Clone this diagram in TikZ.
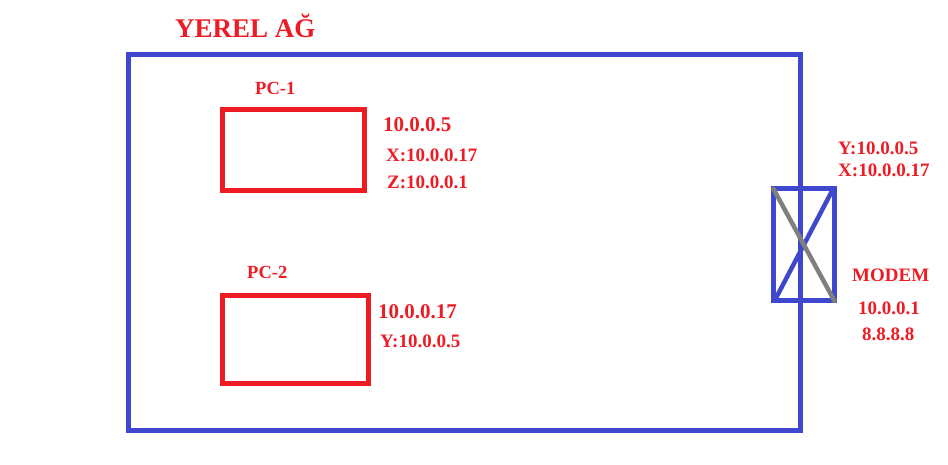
\documentclass[tikz,border=0pt]{standalone}
\usepackage{fontspec}
\setmainfont{Liberation Serif}
\definecolor{pred}{RGB}{237,28,36}
\definecolor{pblue}{RGB}{63,72,204}
\definecolor{pgray}{RGB}{127,127,127}
\begin{document}
\begin{tikzpicture}[x=1pt,y=-1pt,
  lan/.style={draw=pblue,line width=5pt},
  pcbox/.style={draw=pred,line width=5pt},
  lbl/.style={text=pred,font=\bfseries\fontsize{19}{19}\selectfont,anchor=base west,inner sep=0pt},
  big/.style={text=pred,font=\bfseries\fontsize{21}{21}\selectfont,anchor=base west,inner sep=0pt},
  pcname/.style={text=pred,font=\bfseries\fontsize{18.5}{18.5}\selectfont,anchor=base west,inner sep=0pt}]
\useasboundingbox (0,0) rectangle (948,465);
% LAN
\draw[lan] (128.5,54.5) rectangle (800,430);
\node[text=pred,font=\bfseries\fontsize{27}{27}\selectfont,anchor=base west,inner sep=0pt] (title) at (175,38) {YEREL AĞ};
% PC-1
\draw[pcbox] (222.5,109.5) rectangle (364.5,190.5);
\node[pcname] (pc1) at (255,95) {PC-1};
\node[big] (pc1ip) at (383,131.7) {10.0.0.5};
\node[lbl] (pc1x) at (386,161.7) {X:10.0.0.17};
\node[lbl] (pc1z) at (387,189) {Z:10.0.0.1};
% PC-2
\draw[pcbox] (222.5,295.5) rectangle (368.5,383.5);
\node[pcname] (pc2) at (247,278) {PC-2};
\node[big] (pc2ip) at (378,318) {10.0.0.17};
\node[lbl] (pc2y) at (380,347) {Y:10.0.0.5};
% Modem
\node[draw=pblue,line width=5pt,minimum width=61.5pt,minimum height=112pt,inner sep=0pt] (modem) at (803.75,244.5) {};
\draw[draw=pblue,line width=4.5pt] (776,298) -- (832,191);
\draw[draw=pgray,line width=4.5pt,line cap=round] (773.5,189) -- (834.5,301);
\node[lbl] (my) at (838,155) {Y:10.0.0.5};
\node[lbl] (mx) at (838,176.7) {X:10.0.0.17};
\node[lbl] (mname) at (852,281.7) {MODEM};
\node[lbl] (mip) at (858,314) {10.0.0.1};
\node[lbl] (mpub) at (862,340.7) {8.8.8.8};
\end{tikzpicture}
\end{document}
